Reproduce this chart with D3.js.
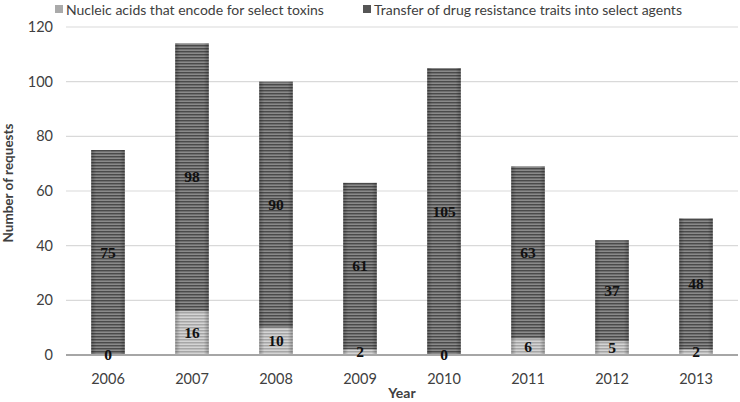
<!DOCTYPE html>
<html><head><meta charset="utf-8">
<script src="https://cdn.jsdelivr.net/npm/d3@7"></script>
<style>body{margin:0;background:#fff}</style>
</head><body>
<script>
const years = ["2006","2007","2008","2009","2010","2011","2012","2013"];
const nucleic = [0,16,10,2,0,6,5,2];
const transfer = [75,98,90,61,105,63,37,48];
const seriesNames = ["Nucleic acids that encode for select toxins","Transfer of drug resistance traits into select agents"];
const yTicks = [0,20,40,60,80,100,120];

const W=740,H=402;
const FONT="Lato";
const svg=d3.select("body").append("svg").attr("width",W).attr("height",H);
const defs=svg.append("defs");
function stripes(id,base,dark,light){
  const p=defs.append("pattern").attr("id",id).attr("patternUnits","userSpaceOnUse").attr("width",8).attr("height",3);
  p.append("rect").attr("width",8).attr("height",3).attr("fill",base);
  p.append("rect").attr("y",0).attr("width",8).attr("height",1).attr("fill",dark);
  p.append("rect").attr("y",2).attr("width",8).attr("height",1).attr("fill",light);
}
stripes("pDark","#6e6e6e","#4a4a4a","#8a8a8a");
stripes("pLight","#bdbdbd","#a6a6a6","#d4d4d4");
const g=defs.append("linearGradient").attr("id","edge").attr("x1",0).attr("x2",1).attr("y1",0).attr("y2",0);
g.append("stop").attr("offset","0").attr("stop-color","#000").attr("stop-opacity",0.25);
g.append("stop").attr("offset","0.15").attr("stop-color","#000").attr("stop-opacity",0);
g.append("stop").attr("offset","0.85").attr("stop-color","#000").attr("stop-opacity",0);
g.append("stop").attr("offset","1").attr("stop-color","#000").attr("stop-opacity",0.25);

const x=d3.scaleBand().domain(years).range([66,738]).paddingInner(0.6).paddingOuter(0.3);
const y=d3.scaleLinear().domain([0,120]).range([355,27]);

// gridlines
svg.append("g").selectAll("line").data(yTicks.filter(d=>d>0)).join("line")
  .attr("x1",66).attr("x2",738).attr("y1",d=>y(d)).attr("y2",d=>y(d))
  .attr("stroke","#d9d9d9").attr("stroke-width",1.2);

// y tick labels
svg.append("g").selectAll("text").data(yTicks).join("text")
  .attr("x",53).attr("y",d=>y(d)+5).attr("text-anchor","end")
  .attr("font-family",FONT).attr("font-size",14.5).attr("fill","#404040").text(d=>d);

const stack=years.map((yr,i)=>({yr,n:nucleic[i],t:transfer[i]}));
const bars=svg.append("g");
bars.selectAll("rect.n").data(stack).join("rect")
  .attr("x",d=>x(d.yr)).attr("width",x.bandwidth())
  .attr("y",d=>y(d.n)).attr("height",d=>y(0)-y(d.n)).attr("fill","url(#pLight)");
bars.selectAll("rect.t").data(stack).join("rect")
  .attr("x",d=>x(d.yr)).attr("width",x.bandwidth())
  .attr("y",d=>y(d.n+d.t)).attr("height",d=>y(d.n)-y(d.n+d.t)).attr("fill","url(#pDark)");
bars.selectAll("rect.e").data(stack).join("rect")
  .attr("x",d=>x(d.yr)).attr("width",x.bandwidth())
  .attr("y",d=>y(d.n+d.t)).attr("height",d=>y(0)-y(d.n+d.t)).attr("fill","url(#edge)");

// baseline
svg.append("line").attr("x1",66).attr("x2",738).attr("y1",y(0)).attr("y2",y(0))
  .attr("stroke","#a6a6a6").attr("stroke-width",2);

// value labels
const lab=svg.append("g").attr("font-family","Liberation Serif").attr("font-weight","bold").attr("font-size",15.5).attr("text-anchor","middle").attr("fill","#111");
lab.selectAll("text.n").data(stack).join("text")
  .attr("x",d=>x(d.yr)+x.bandwidth()/2).attr("y",d=>y(d.n/2)+5).text(d=>d.n);
lab.selectAll("text.t").data(stack).join("text")
  .attr("x",d=>x(d.yr)+x.bandwidth()/2).attr("y",d=>y(d.n+d.t/2)+5).text(d=>d.t);

// x axis labels
svg.append("g").selectAll("text").data(years).join("text")
  .attr("x",d=>x(d)+x.bandwidth()/2).attr("y",384).attr("text-anchor","middle")
  .attr("font-family",FONT).attr("font-size",14.5).attr("fill","#404040").text(d=>d);

svg.append("text").attr("x",402).attr("y",398).attr("text-anchor","middle")
  .attr("font-family",FONT).attr("font-weight","bold").attr("font-size",14).attr("fill","#404040").text("Year");
svg.append("text").attr("transform","translate(13,183) rotate(-90)").attr("text-anchor","middle")
  .attr("font-family",FONT).attr("font-weight","bold").attr("font-size",13.5).attr("fill","#404040").text("Number of requests");

// legend
const leg=[{x:55,c:"#aaa"},{x:363,c:"#555"}];
leg.forEach((l,i)=>{
  svg.append("rect").attr("x",l.x).attr("y",5).attr("width",8).attr("height",8).attr("fill",l.c);
  svg.append("text").attr("x",l.x+11).attr("y",15).attr("font-family",FONT).attr("font-size",14).attr("fill","#404040").text(seriesNames[i]);
});
</script>
</body></html>
